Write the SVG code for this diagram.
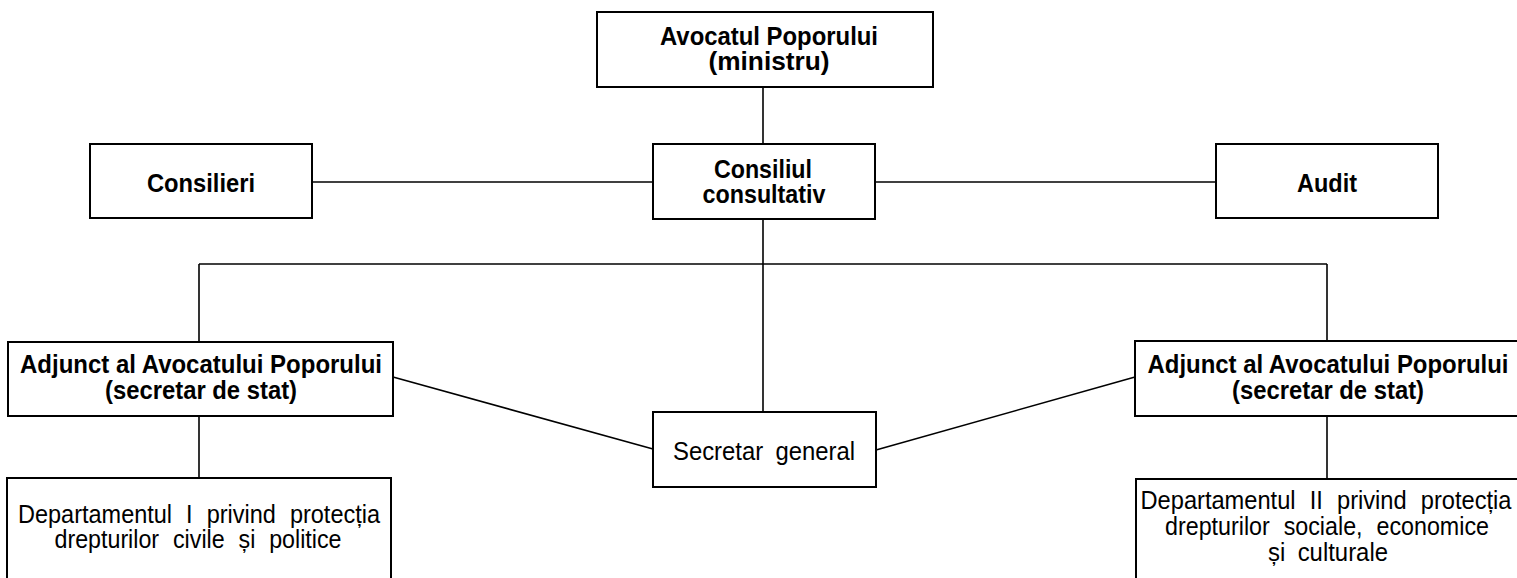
<svg xmlns="http://www.w3.org/2000/svg" width="1517" height="578" viewBox="0 0 1517 578">
<style>
rect.box{fill:#fff;stroke:#000;stroke-width:2}
.c line{stroke:#000;stroke-width:1.6}
text{font-family:"Liberation Sans",Arial,sans-serif;font-size:25px;fill:#000;text-anchor:middle}
text.b{font-weight:bold}
</style>
<rect width="1517" height="578" fill="#fff"/>
<g class="c" id="connectors">
<line x1="763" y1="87" x2="763" y2="144"/>
<line x1="312" y1="182" x2="653" y2="182"/>
<line x1="875" y1="182" x2="1216" y2="182"/>
<line x1="763" y1="219" x2="763" y2="412"/>
<line x1="199" y1="264" x2="1327" y2="264"/>
<line x1="199" y1="264" x2="199" y2="342"/>
<line x1="1327" y1="264" x2="1327" y2="341"/>
<line x1="393" y1="377" x2="653" y2="449"/>
<line x1="876" y1="450" x2="1135" y2="377"/>
<line x1="199" y1="416" x2="199" y2="478"/>
<line x1="1327" y1="416" x2="1327" y2="479"/>
</g>
<g id="avocatul">
<rect class="box" x="597" y="12" width="336" height="75"/>
<text class="b" x="769" y="45" textLength="218" lengthAdjust="spacingAndGlyphs">Avocatul Poporului</text>
<text class="b" x="769" y="70" textLength="121" lengthAdjust="spacingAndGlyphs">(ministru)</text>
</g>
<g id="consilieri">
<rect class="box" x="90" y="144" width="222" height="74"/>
<text class="b" x="201" y="192" textLength="108" lengthAdjust="spacingAndGlyphs">Consilieri</text>
</g>
<g id="consiliul">
<rect class="box" x="653" y="144" width="222" height="75"/>
<text class="b" x="763" y="178" textLength="98" lengthAdjust="spacingAndGlyphs">Consiliul</text>
<text class="b" x="764" y="203" textLength="123" lengthAdjust="spacingAndGlyphs">consultativ</text>
</g>
<g id="audit">
<rect class="box" x="1216" y="144" width="222" height="74"/>
<text class="b" x="1327" y="192" textLength="60" lengthAdjust="spacingAndGlyphs">Audit</text>
</g>
<g id="adjunct1">
<rect class="box" x="8" y="342" width="385" height="74"/>
<text class="b" x="201" y="373" textLength="362" lengthAdjust="spacingAndGlyphs">Adjunct al Avocatului Poporului</text>
<text class="b" x="201" y="399" textLength="192" lengthAdjust="spacingAndGlyphs">(secretar de stat)</text>
</g>
<g id="adjunct2">
<rect class="box" x="1135" y="341" width="400" height="75"/>
<text class="b" x="1328" y="373" textLength="361" lengthAdjust="spacingAndGlyphs">Adjunct al Avocatului Poporului</text>
<text class="b" x="1328" y="399" textLength="192" lengthAdjust="spacingAndGlyphs">(secretar de stat)</text>
</g>
<g id="secretar">
<rect class="box" x="653" y="412" width="223" height="75"/>
<text x="764" y="460" word-spacing="6" textLength="182" lengthAdjust="spacingAndGlyphs">Secretar general</text>
</g>
<g id="dept1">
<rect class="box" x="7" y="478" width="384" height="120"/>
<text x="199" y="523" word-spacing="8" textLength="362" lengthAdjust="spacingAndGlyphs">Departamentul I privind protecția</text>
<text x="198" y="548" word-spacing="8" textLength="287" lengthAdjust="spacingAndGlyphs">drepturilor civile și politice</text>
</g>
<g id="dept2">
<rect class="box" x="1136" y="479" width="400" height="120"/>
<text x="1326" y="509" word-spacing="8" textLength="371" lengthAdjust="spacingAndGlyphs">Departamentul II privind protecția</text>
<text x="1327" y="535" word-spacing="8" textLength="324" lengthAdjust="spacingAndGlyphs">drepturilor sociale, economice</text>
<text x="1328" y="561" word-spacing="6" textLength="120" lengthAdjust="spacingAndGlyphs">și culturale</text>
</g>
</svg>
